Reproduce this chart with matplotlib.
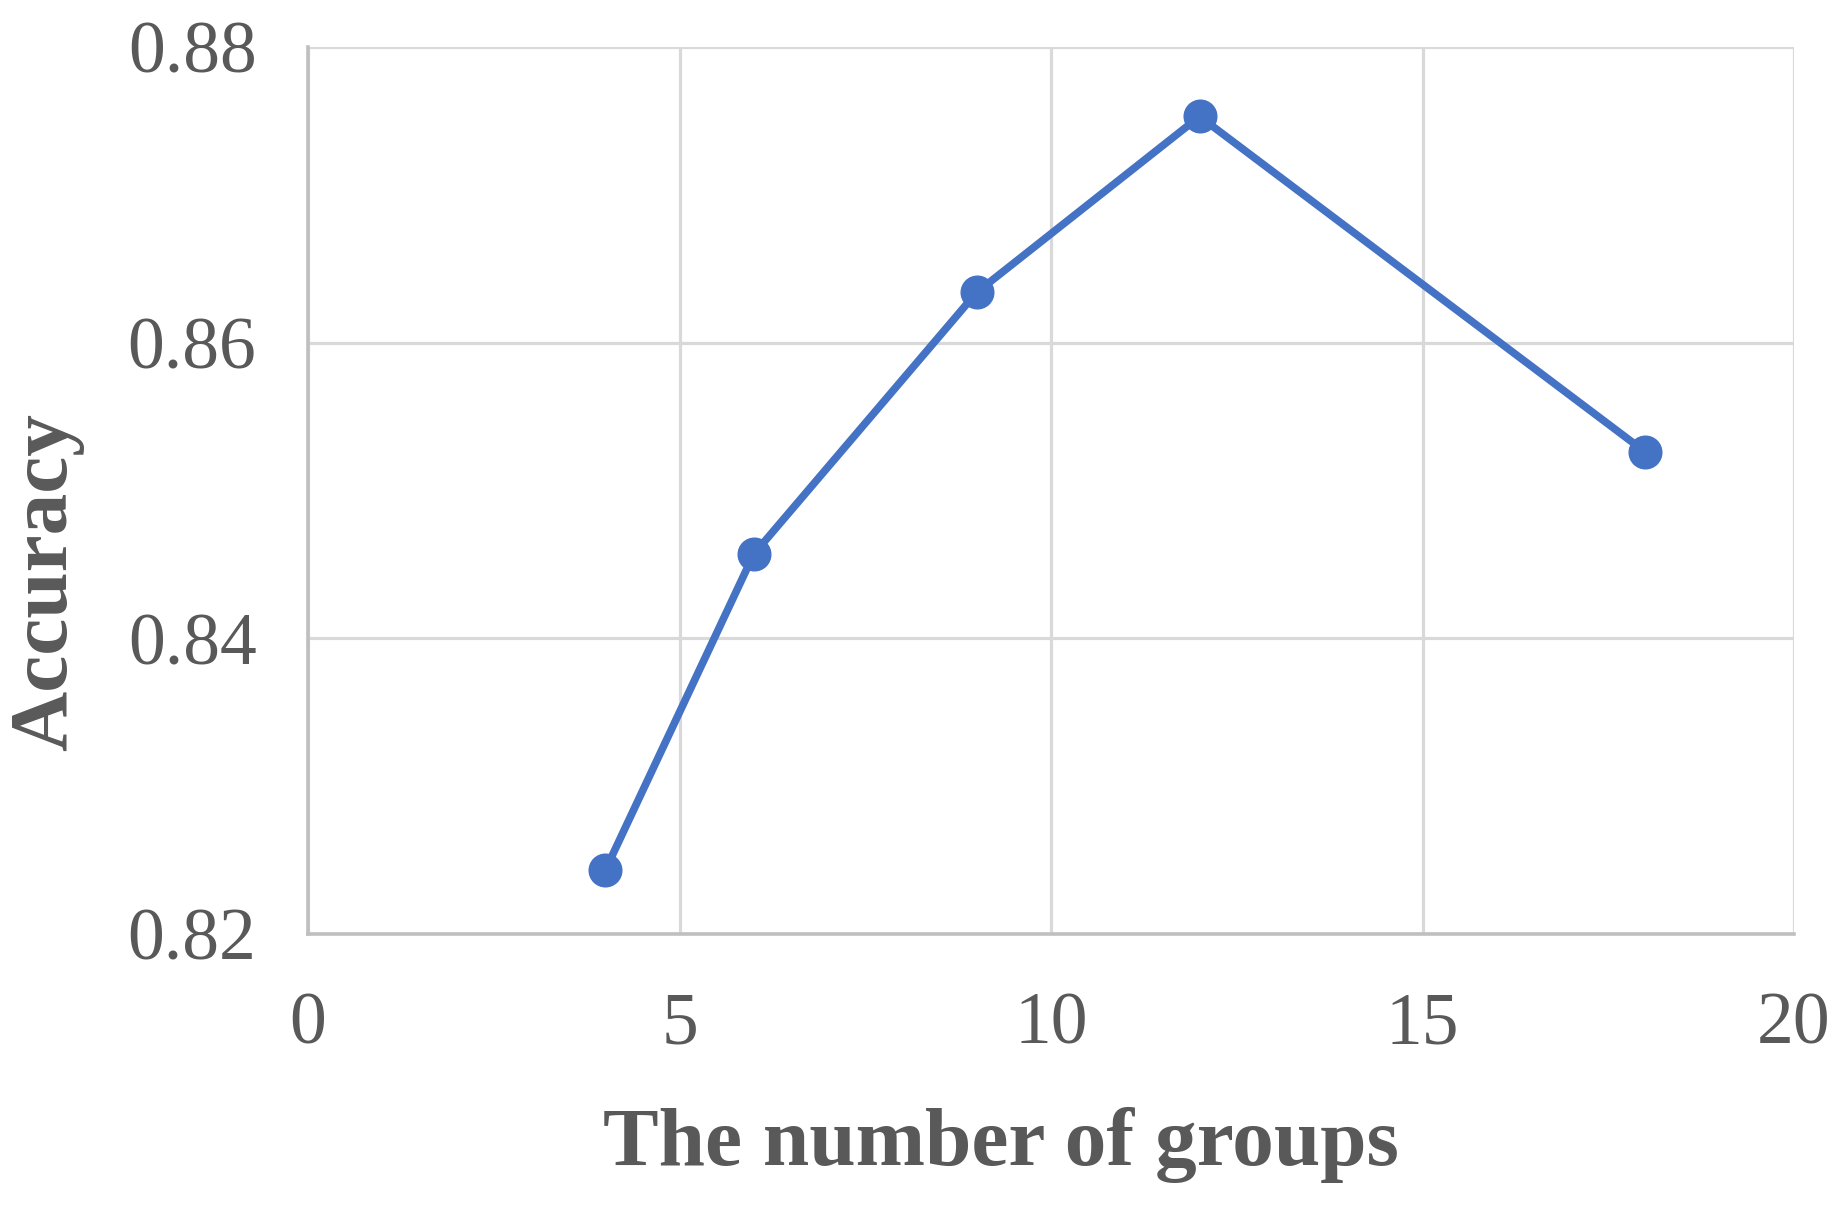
import matplotlib
matplotlib.use("Agg")
import matplotlib.pyplot as plt

groups = [4, 6, 9, 12, 18]
accuracy = [0.8243, 0.8457, 0.8634, 0.8753, 0.8526]
x_ticks = [0, 5, 10, 15, 20]
y_ticks = [0.82, 0.84, 0.86, 0.88]
y_tick_labels = ["0.82", "0.84", "0.86", "0.88"]

plt.rcParams['font.family'] = ['Liberation Serif', 'DejaVu Serif']
text_color = "#595959"

fig = plt.figure(figsize=(18.43, 12.14), dpi=100)
ax = fig.add_axes([308/1843, 1 - 934/1214, 1486/1843, 887/1214])

ax.plot(groups, accuracy, color="#4472C4", linewidth=5.5, marker="o",
        markersize=23.5, zorder=3, clip_on=False)

ax.set_xlim(0, 20)
ax.set_ylim(0.82, 0.88)
ax.set_xticks(x_ticks)
ax.set_yticks(y_ticks)
ax.set_yticklabels(y_tick_labels)

ax.grid(True, color="#d9d9d9", linewidth=2.3, zorder=0)
ax.set_axisbelow(True)
for s in ["top", "right"]:
    ax.spines[s].set_visible(False)
for s in ["left", "bottom"]:
    ax.spines[s].set_color("#bfbfbf")
    ax.spines[s].set_linewidth(2.6)

ax.tick_params(axis="both", length=0, labelsize=53, colors=text_color)
ax.tick_params(axis="y", pad=37)
ax.tick_params(axis="x", pad=42)

ax.set_xlabel("The number of groups", fontsize=60, fontweight="bold", color=text_color)
ax.set_ylabel("Accuracy", fontsize=60, fontweight="bold", color=text_color)
ax.xaxis.set_label_coords(0.466, -0.238)
ax.yaxis.set_label_coords(-0.176, 0.397)
ax.xaxis.label.set_va("center")
ax.yaxis.label.set_va("center")

fig.savefig("out.png", dpi=100, facecolor="white")
